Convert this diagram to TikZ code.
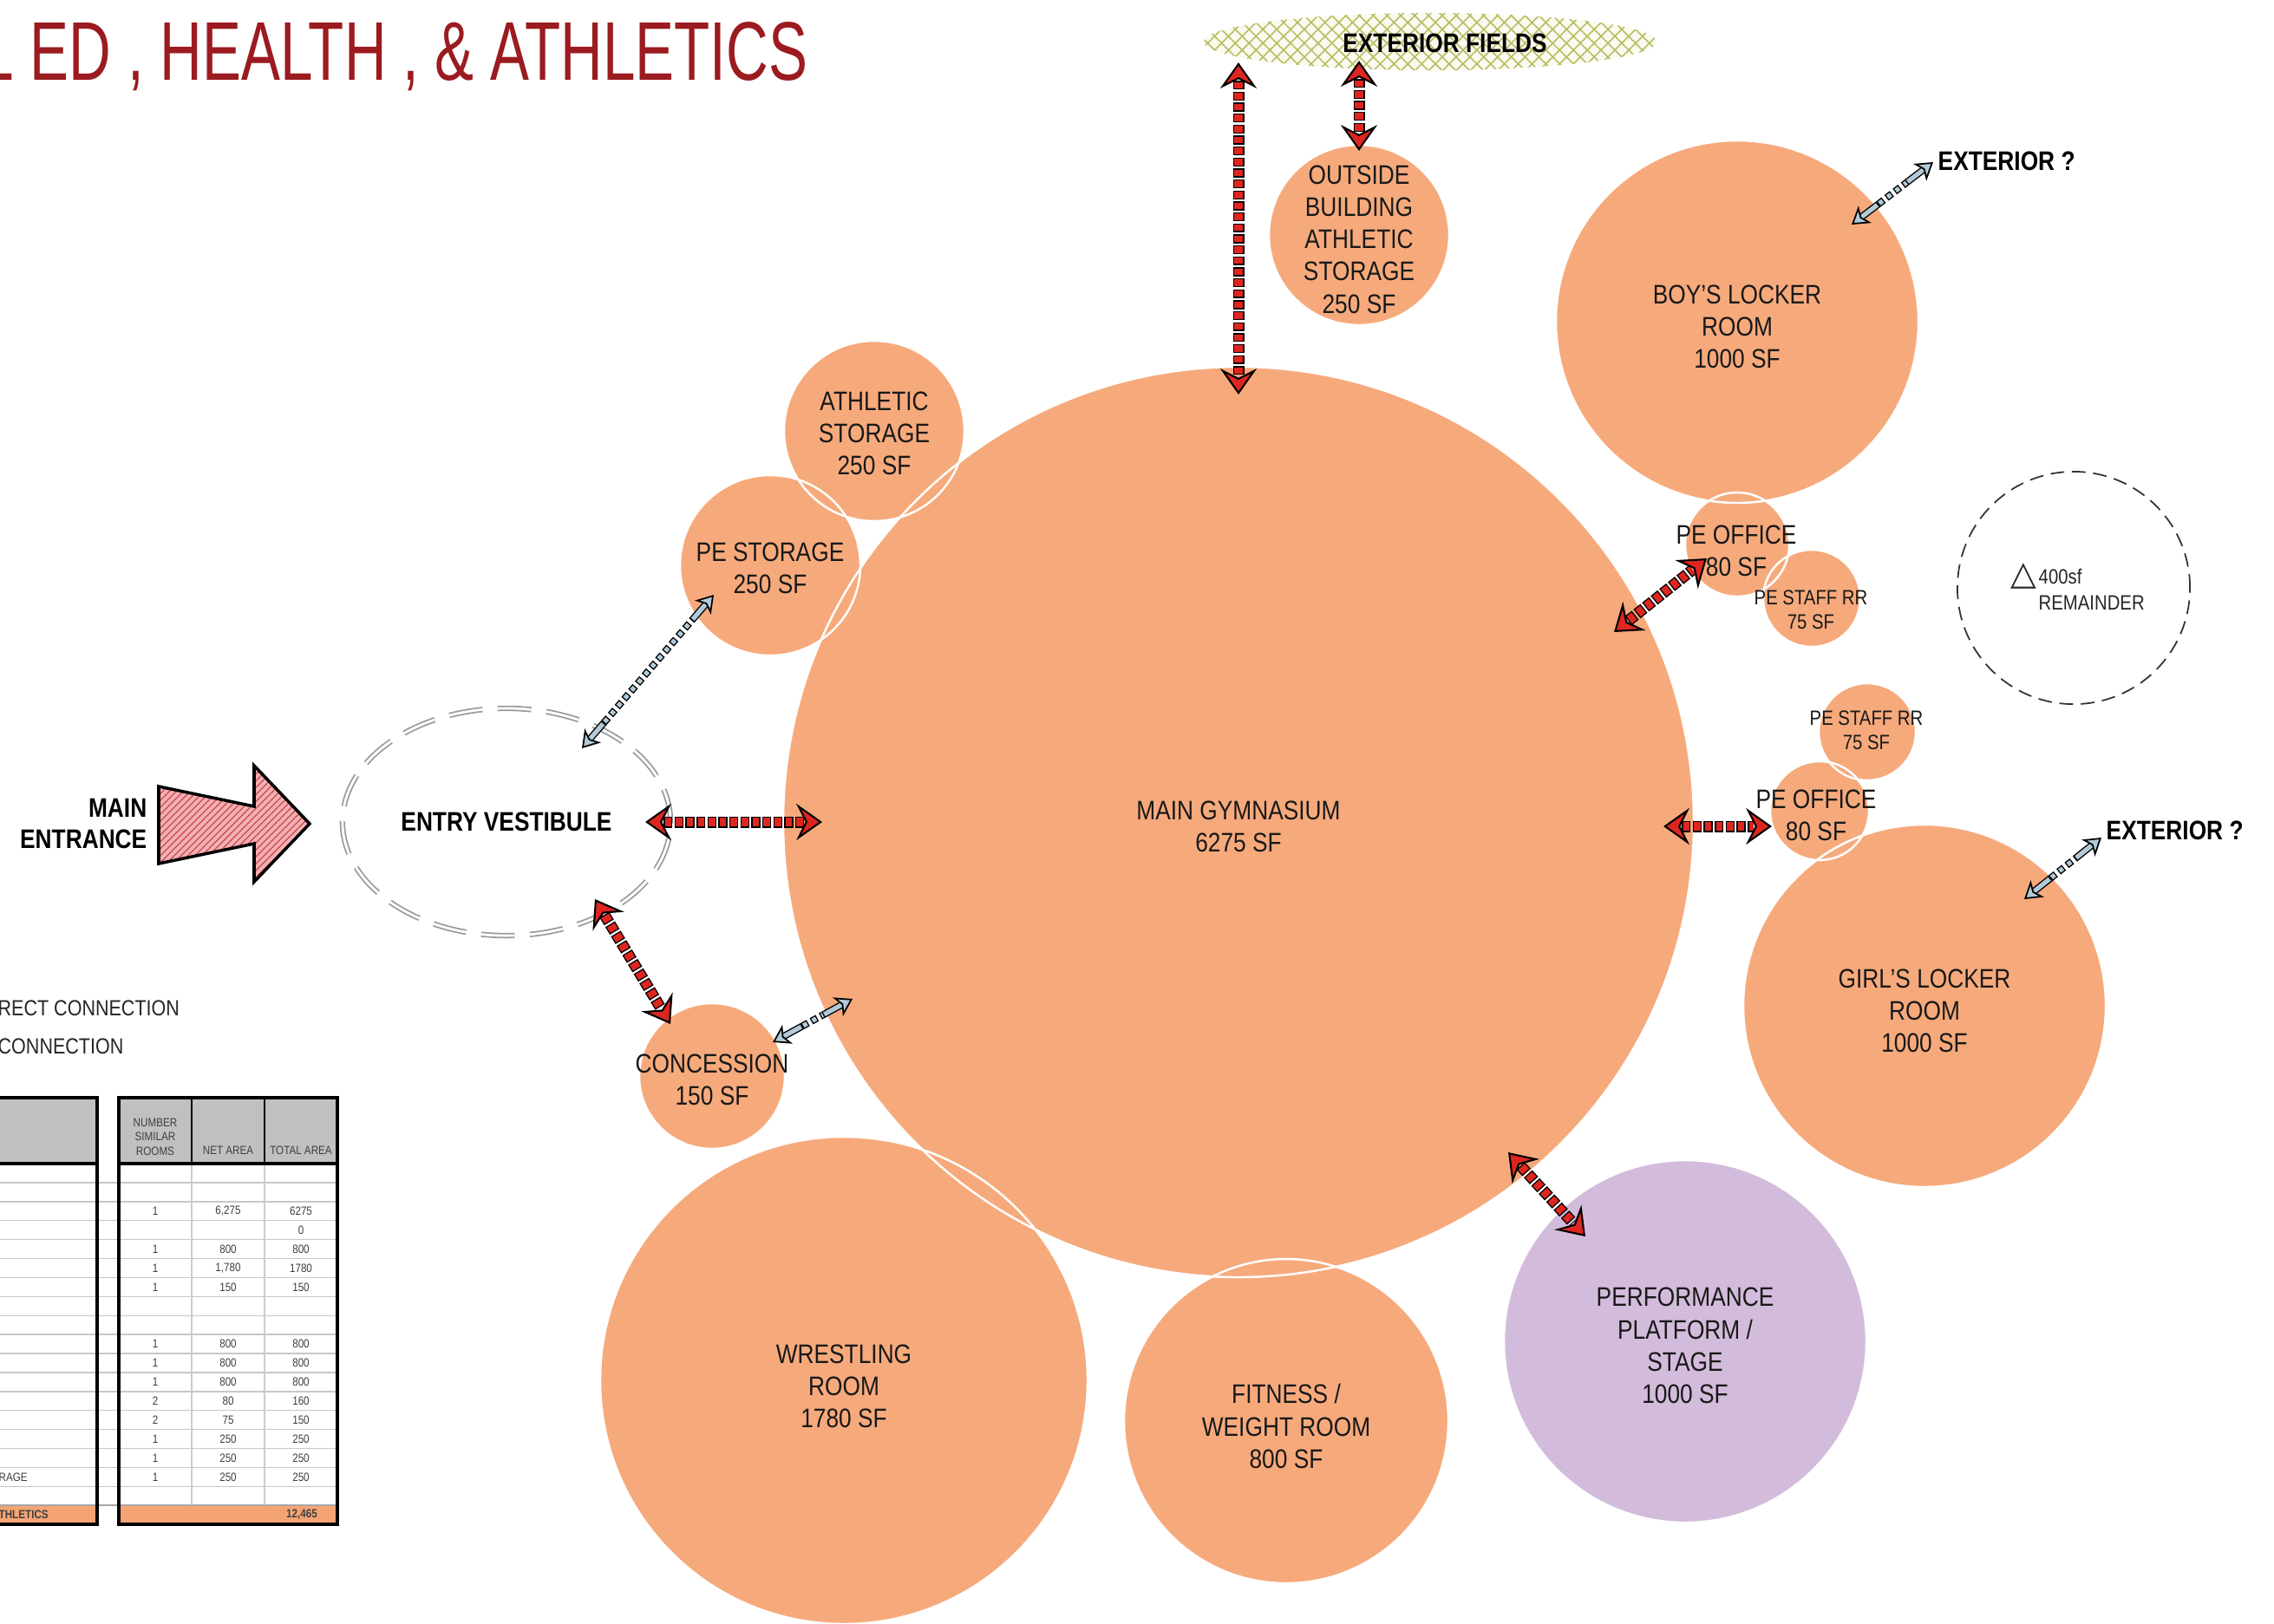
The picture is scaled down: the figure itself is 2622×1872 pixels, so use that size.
\documentclass[tikz,border=0pt]{standalone}
\usepackage{fontspec}
\setmainfont{Liberation Sans}[FakeStretch=0.85]
\newfontfamily\dejavu{DejaVu Sans}
\usepackage{graphicx}
\usetikzlibrary{arrows.meta,shapes.geometric,patterns.meta,calc}
\definecolor{salmon}{RGB}{246,170,124}
\definecolor{lilac}{RGB}{211,188,219}
\definecolor{titlered}{RGB}{155,27,32}
\definecolor{linkred}{RGB}{222,38,32}
\definecolor{linkblue}{RGB}{178,202,216}
\definecolor{fieldgreen}{RGB}{184,188,96}
\definecolor{fieldbg}{RGB}{250,250,240}
\definecolor{pinkfill}{RGB}{242,176,178}
\definecolor{hatchred}{RGB}{205,70,80}
\definecolor{hdrgray}{RGB}{192,192,192}
\definecolor{totorange}{RGB}{244,164,116}
\newcommand{\dirlink}[2]{%
  \draw[dirout] (#1) -- (#2);
  \draw[dirin] (#1) -- (#2);
  \draw[dirhead] (#1) -- (#2);}
\newcommand{\indlink}[2]{%
  \draw[indout] (#1) -- (#2);
  \draw[indin] (#1) -- (#2);
  \draw[indshaftout] ($(#1)!3pt!(#2)$) -- ($(#1)!11pt!(#2)$);
  \draw[indshaftout] ($(#2)!3pt!(#1)$) -- ($(#2)!11pt!(#1)$);
  \draw[indshaftin] ($(#1)!3pt!(#2)$) -- ($(#1)!10.6pt!(#2)$);
  \draw[indshaftin] ($(#2)!3pt!(#1)$) -- ($(#2)!10.6pt!(#1)$);
  \draw[indhead] (#1) -- (#2);}
\begin{document}
\begin{tikzpicture}[x=0.01cm,y=-0.01cm,
  room/.style={circle,fill=salmon,inner sep=0pt,minimum size=#1},
  rim/.style={draw=white,line width=0.7pt},
  lbl/.style={align=center,inner sep=0pt,text=black!90,font=\fontsize{8.8}{10.6}\selectfont},
  slbl/.style={align=center,inner sep=0pt,text=black!90,font=\fontsize{6.8}{7.9}\selectfont},
  blbl/.style={align=center,inner sep=0pt,text=black,font=\bfseries\fontsize{8.8}{10}\selectfont},
  dirout/.style={draw=black,line width=3.7pt,dash pattern=on 2.9pt off 0.7pt,shorten <=6pt,shorten >=6pt},
  dirin/.style={draw=linkred,line width=2.9pt,dash pattern=on 2.1pt off 1.5pt,dash phase=3.2pt,shorten <=6pt,shorten >=6pt},
  dirhead/.style={draw=black,line width=0.6pt,dash pattern=on 0pt off 300pt,>={Stealth[length=8.5pt,width=12pt,inset=3pt,fill=linkred]},<->},
  indout/.style={draw=black,line width=2.3pt,dash pattern=on 2.2pt off 1.2pt,shorten <=11pt,shorten >=11pt},
  indin/.style={draw=linkblue,line width=1.5pt,dash pattern=on 1.4pt off 2pt,dash phase=3pt,shorten <=11pt,shorten >=11pt},
  indshaftout/.style={draw=black,line width=2.3pt},
  indshaftin/.style={draw=linkblue,line width=1.5pt},
  indhead/.style={draw=black,line width=0.5pt,dash pattern=on 0pt off 300pt,>={Stealth[length=5.5pt,width=7pt,inset=1.5pt,fill=linkblue]},<->},
  tcell/.style={inner sep=0pt,text=black!75,font=\fontsize{3.9}{4.7}\selectfont,align=center},
]
\fill[white] (0,0) rectangle (2622,1872);
\useasboundingbox (0,0) rectangle (2622,1872);

% title
\node[anchor=base west,inner sep=0pt,text=titlered] (title) at (-22,92)
  {\resizebox{9.52cm}{0.67cm}{L ED , HEALTH , \& ATHLETICS}};

% exterior fields
\node[ellipse,inner sep=0pt,minimum width=5.22cm,minimum height=0.66cm,
  preaction={fill=fieldbg},
  pattern={Lines[angle=45,distance=3.2pt,line width=0.45pt]},pattern color=fieldgreen,
  postaction={pattern={Lines[angle=-45,distance=3.2pt,line width=0.45pt]},pattern color=fieldgreen}]
  (fields) at (1649,48) {};

% rooms
\node[room=10.5cm] (gym) at (1428,948) {};
\node[room=4.18cm] (boys) at (2003,371) {};
\node[room=4.18cm] (girls) at (2219,1160) {};
\node[room=2.08cm] (outst) at (1567,271) {};
\node[room=2.08cm] (athst) at (1008,497) {};
\node[room=2.08cm] (pest) at (888,652) {};
\node[room=1.68cm] (conc) at (821,1241) {};
\node[room=5.62cm] (wrest) at (973,1592) {};
\node[room=3.74cm] (fit) at (1483,1639) {};
\node[room=4.18cm,fill=lilac] (perf) at (1943,1547) {};
\node[room=1.2cm] (peoa) at (2003,628) {};
\node[room=1.12cm] (psra) at (2089,690) {};
\node[room=1.12cm] (psrb) at (2153,844) {};
\node[room=1.14cm] (peob) at (2098,935) {};

\foreach \n/\r in {gym/525,boys/209,girls/209,outst/104,athst/104,pest/104,conc/84,wrest/281,fit/187,perf/209,peoa/60,psra/56,psrb/56,peob/57}
  \draw[rim] (\n.center) circle (\r);

% remainder
\node[circle,draw=black!80,line width=0.5pt,dash pattern=on 4.5pt off 2.5pt,minimum size=2.68cm,inner sep=0pt] (rem) at (2391,678) {};
\node[inner sep=0pt,text=black!85,font=\dejavu\fontsize{11}{11}\selectfont] (tri) at (2333,664) {△};
\node[anchor=west,inner sep=0pt,text=black!85,font=\fontsize{6.8}{8.5}\selectfont,align=left] (remL) at (2350,680) {400sf\\REMAINDER};

% entry vestibule
\node[ellipse,draw=gray!80,line width=0.5pt,double=white,double distance=0.8pt,dash pattern=on 11pt off 5pt,minimum width=3.78cm,minimum height=2.62cm,inner sep=0pt,blbl] (vest) at (584,948) {ENTRY VESTIBULE};

% main entrance arrow
\draw[black,line width=1pt,preaction={fill=pinkfill},
  pattern={Lines[angle=45,distance=1.6pt,line width=0.35pt]},pattern color=hatchred]
  (183,907) -- (293,930) -- (293,883) -- (357,950) -- (293,1017) -- (293,973) -- (183,996) -- cycle;
\node[blbl,align=right,anchor=east] (entrL) at (170,950) {MAIN\\ENTRANCE};

% legend
\node[anchor=west,inner sep=0pt,font=\fontsize{7.2}{8}\selectfont,text=black!85] (leg1) at (-3,1163) {RECT CONNECTION};
\node[anchor=west,inner sep=0pt,font=\fontsize{7.2}{8}\selectfont,text=black!85] (leg2) at (-3,1207) {CONNECTION};

% table
\fill[hdrgray] (-5,1266) rectangle (112,1342);
\fill[hdrgray] (137,1266) rectangle (389,1342);
\fill[totorange] (-5,1736) rectangle (112,1758);
\fill[totorange] (137,1736) rectangle (389,1758);
\foreach \i in {1,...,17} \draw[black!22,line width=0.4pt] (-5,{1342+\i*21.9}) -- (389,{1342+\i*21.9});
\draw[black!35,line width=0.5pt] (-5,1736) -- (389,1736);
\draw[black!20,line width=0.4pt] (221,1342) -- (221,1736) (305,1342) -- (305,1736);
\draw[black,line width=0.8pt] (221,1266) -- (221,1342) (305,1266) -- (305,1342);
\draw[black,line width=1.3pt] (-5,1266) -- (112,1266) -- (112,1758) -- (-5,1758);
\draw[black,line width=1.3pt] (137,1266) rectangle (389,1758);
\draw[black,line width=1.3pt] (-5,1342) -- (112,1342) (137,1342) -- (389,1342);
\node[tcell] (h1) at (179,1311) {NUMBER\\SIMILAR\\ROOMS};
\node[tcell] (h2) at (263,1327) {NET AREA};
\node[tcell] (h3) at (347,1327) {TOTAL AREA};
\foreach \i/\a/\b/\c in {3/1/{6,275}/6275, 4/{}/{}/0, 5/1/800/800, 6/1/{1,780}/1780, 7/1/150/150, 10/1/800/800, 11/1/800/800, 12/1/800/800, 13/2/80/160, 14/2/75/150, 15/1/250/250, 16/1/250/250, 17/1/250/250}{
  \node[tcell] (ca\i) at (179,{1342+(\i-0.5)*21.9}) {\a};
  \node[tcell] (cb\i) at (263,{1342+(\i-0.5)*21.9}) {\b};
  \node[tcell] (cc\i) at (347,{1342+(\i-0.5)*21.9}) {\c};
}
\node[tcell,anchor=west] (crage) at (-2,1703.4) {RAGE};
\node[tcell,anchor=west,font=\bfseries\fontsize{3.9}{4.7}\selectfont] (cath) at (-2,1747) {THLETICS};
\node[tcell,font=\bfseries\fontsize{3.9}{4.7}\selectfont] (ctot) at (348,1747) {12,465};

% connection end points
\coordinate (r1a) at (1428,72);   \coordinate (r1b) at (1428,455);
\coordinate (r2a) at (1567,70);   \coordinate (r2b) at (1567,174);
\coordinate (r3a) at (744,948);   \coordinate (r3b) at (948,948);
\coordinate (r4a) at (686,1037);  \coordinate (r4b) at (773,1181);
\coordinate (r5a) at (1861,729);  \coordinate (r5b) at (1968,644);
\coordinate (r6a) at (1918,953);  \coordinate (r6b) at (2043,953);
\coordinate (r7a) at (1739,1329); \coordinate (r7b) at (1828,1426);
\coordinate (b1a) at (671,863);   \coordinate (b1b) at (823,686);
\coordinate (b2a) at (891,1202);  \coordinate (b2b) at (983,1152);
\coordinate (b3a) at (2135,259);  \coordinate (b3b) at (2229,187);
\coordinate (b4a) at (2334,1037); \coordinate (b4b) at (2423,966);

\dirlink{r1a}{r1b}
\dirlink{r2a}{r2b}
\dirlink{r3a}{r3b}
\dirlink{r4a}{r4b}
\dirlink{r5a}{r5b}
\dirlink{r6a}{r6b}
\dirlink{r7a}{r7b}
\indlink{b1a}{b1b}
\indlink{b2a}{b2b}
\indlink{b3a}{b3b}
\indlink{b4a}{b4b}

% labels
\node[blbl] (fieldsL) at (1666,50) {EXTERIOR FIELDS};
\node[blbl,anchor=west] (ext1) at (2234,186) {EXTERIOR ?};
\node[blbl,anchor=west] (ext2) at (2428,958) {EXTERIOR ?};
\node[lbl] (gymL) at (1428,953) {MAIN GYMNASIUM\\6275 SF};
\node[lbl] (boysL) at (2003,377) {BOY'S LOCKER\\ROOM\\1000 SF};
\node[lbl] (girlsL) at (2219,1166) {GIRL'S LOCKER\\ROOM\\1000 SF};
\node[lbl] (outstL) at (1567,276) {OUTSIDE\\BUILDING\\ATHLETIC\\STORAGE\\250 SF};
\node[lbl] (athstL) at (1008,500) {ATHLETIC\\STORAGE\\250 SF};
\node[lbl] (pestL) at (888,655) {PE STORAGE\\250 SF};
\node[lbl] (concL) at (821,1245) {CONCESSION\\150 SF};
\node[lbl] (wrestL) at (973,1599) {WRESTLING\\ROOM\\1780 SF};
\node[lbl] (fitL) at (1483,1645) {FITNESS /\\WEIGHT ROOM\\800 SF};
\node[lbl] (perfL) at (1943,1552) {PERFORMANCE\\PLATFORM /\\STAGE\\1000 SF};
\node[lbl] (peoaL) at (2002,635) {PE OFFICE\\80 SF};
\node[slbl] (psraL) at (2088,703) {PE STAFF RR\\75 SF};
\node[slbl] (psrbL) at (2152,842) {PE STAFF RR\\75 SF};
\node[lbl] (peobL) at (2094,940) {PE OFFICE\\80 SF};
\end{tikzpicture}
\end{document}
